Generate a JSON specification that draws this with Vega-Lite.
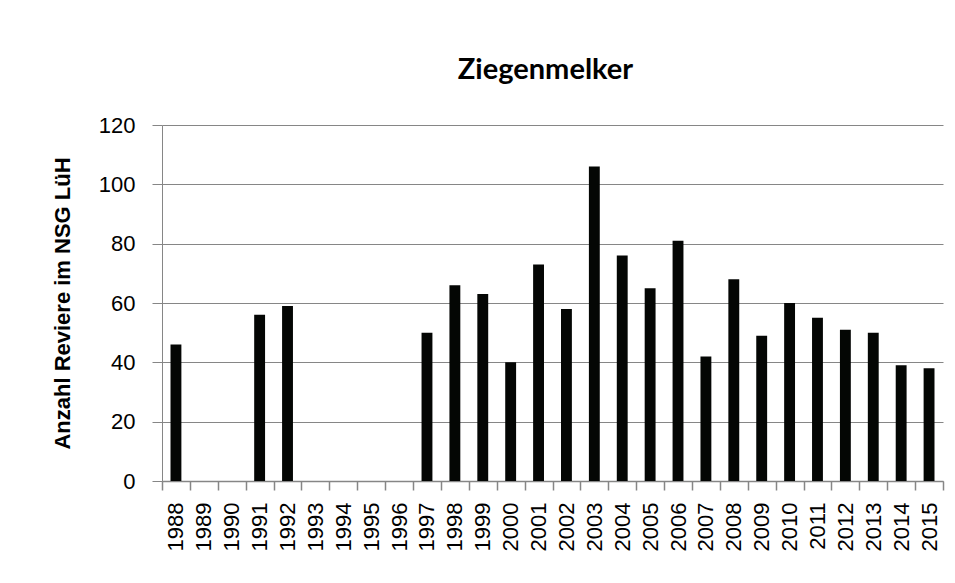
{
  "$schema": "https://vega.github.io/schema/vega-lite/v6.json",
  "autosize": {"type": "none"},
  "padding": {"left": 162, "top": 125, "right": 12, "bottom": 102},
  "width": 781,
  "height": 356,
  "background": "white",
  "title": {
    "text": "Ziegenmelker",
    "font": "Lato",
    "fontSize": 29,
    "fontWeight": "bold",
    "color": "#000000",
    "anchor": "middle",
    "dx": -7,
    "offset": 29
  },
  "data": {
    "values": [
      {"Jahr": "1988", "Reviere": 46},
      {"Jahr": "1991", "Reviere": 56},
      {"Jahr": "1992", "Reviere": 59},
      {"Jahr": "1997", "Reviere": 50},
      {"Jahr": "1998", "Reviere": 66},
      {"Jahr": "1999", "Reviere": 63},
      {"Jahr": "2000", "Reviere": 40},
      {"Jahr": "2001", "Reviere": 73},
      {"Jahr": "2002", "Reviere": 58},
      {"Jahr": "2003", "Reviere": 106},
      {"Jahr": "2004", "Reviere": 76},
      {"Jahr": "2005", "Reviere": 65},
      {"Jahr": "2006", "Reviere": 81},
      {"Jahr": "2007", "Reviere": 42},
      {"Jahr": "2008", "Reviere": 68},
      {"Jahr": "2009", "Reviere": 49},
      {"Jahr": "2010", "Reviere": 60},
      {"Jahr": "2011", "Reviere": 55},
      {"Jahr": "2012", "Reviere": 51},
      {"Jahr": "2013", "Reviere": 50},
      {"Jahr": "2014", "Reviere": 39},
      {"Jahr": "2015", "Reviere": 38}
    ]
  },
  "mark": {"type": "bar", "color": "#040604", "width": {"band": 0.39}},
  "encoding": {
    "x": {
      "field": "Jahr",
      "type": "ordinal",
      "scale": {
        "domain": ["1988","1989","1990","1991","1992","1993","1994","1995","1996","1997","1998","1999","2000","2001","2002","2003","2004","2005","2006","2007","2008","2009","2010","2011","2012","2013","2014","2015"],
        "paddingInner": 0,
        "paddingOuter": 0
      },
      "axis": {
        "title": null,
        "labelAngle": 270,
        "labelFont": "Liberation Sans",
        "labelFontSize": 22,
        "labelColor": "#000000",
        "labelPadding": 12,
        "tickBand": "extent",
        "ticks": true,
        "tickSize": 9,
        "tickColor": "#868686",
        "tickWidth": 1.5,
        "domainColor": "#868686",
        "domainWidth": 1.5,
        "grid": false
      }
    },
    "y": {
      "field": "Reviere",
      "type": "quantitative",
      "scale": {"domain": [0, 120], "nice": false},
      "axis": {
        "title": "Anzahl Reviere im NSG LüH",
        "titleFont": "Liberation Sans",
        "titleFontSize": 22,
        "titleFontWeight": "bold",
        "titleColor": "#000000",
        "titlePadding": 24,
        "values": [0, 20, 40, 60, 80, 100, 120],
        "labelFont": "Liberation Sans",
        "labelFontSize": 22,
        "labelColor": "#000000",
        "labelPadding": 17,
        "tickSize": 10,
        "tickColor": "#868686",
        "tickWidth": 1,
        "domainColor": "#868686",
        "domainWidth": 1,
        "grid": true,
        "gridColor": "#868686",
        "gridWidth": 1,
        "gridOpacity": 1
      }
    }
  },
  "config": {
    "view": {"stroke": null}
  }
}
